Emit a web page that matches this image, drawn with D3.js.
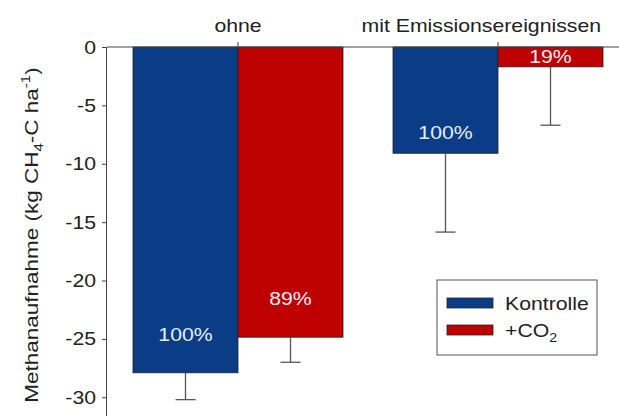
<!DOCTYPE html>
<html>
<head>
<meta charset="UTF-8">
<title>Methanaufnahme</title>
<script src="https://cdn.jsdelivr.net/npm/d3@7"></script>
<style>
    body { margin: 0; background: #fff; }
    svg { display: block; font-family: Arial, "Liberation Sans", sans-serif; }
</style>
</head>
<body>
<svg id="chart" width="619" height="416"></svg>
<script>
    // data
    const groups = ["ohne", "mit Emissionsereignissen"];
    const series = ["Kontrolle", "+CO2"];
    const kontrolle = [-27.9, -9.1];
    const co2 = [-24.85, -1.7];
    const kontrolleErr = [2.3, 6.75];
    const co2Err = [2.15, 5.0];
    const pctKontrolle = ["100%", "100%"];
    const pctCo2 = ["89%", "19%"];
    const yTicks = [0, -5, -10, -15, -20, -25, -30];

    const colors = ["#0b3d86", "#bf0000"];
    const FS = 18, SX = 1.18;   // the original type is wide, stretch it a bit

    const svg = d3.select("#chart");
    const plotLeft = 107, plotRight = 619, plotTop = 47, plotBottom = 416;

    const y = d3.scaleLinear().domain([0, -31.6]).range([plotTop, plotBottom]);
    const x0 = d3.scaleBand().domain(groups).range([plotLeft, 629])
        .paddingInner(0.1923).paddingOuter(0.1);
    const x1 = d3.scaleBand().domain(series).range([0, x0.bandwidth()]);
    const barW = x1.bandwidth();

    const rows = groups.map((g, i) => ([
        {g, s: series[0], i: 0, v: kontrolle[i], e: kontrolleErr[i], p: pctKontrolle[i]},
        {g, s: series[1], i: 1, v: co2[i], e: co2Err[i], p: pctCo2[i]}
    ])).flat();

    const bx = d => x0(d.g) + x1(d.s);

    function wideText(parent, x, y, rot, sx) {
        return parent.append("text")
            .attr("transform", `translate(${x},${y})` + (rot ? ` rotate(${rot})` : "") + ` scale(${sx || SX},1)`)
            .attr("font-size", FS).attr("fill", "#222");
    }

    // error bars (drawn first so bar covers the part inside)
    const eb = svg.append("g").attr("stroke", "#555").attr("stroke-width", 1.3);
    rows.forEach(d => {
        const cx = bx(d) + barW / 2;
        eb.append("line").attr("x1", cx).attr("x2", cx).attr("y1", y(d.v)).attr("y2", y(d.v - d.e));
        eb.append("line").attr("x1", cx - 10).attr("x2", cx + 10).attr("y1", y(d.v - d.e)).attr("y2", y(d.v - d.e));
    });

    svg.append("g").selectAll("rect").data(rows).join("rect")
        .attr("x", d => bx(d))
        .attr("y", y(0))
        .attr("width", barW)
        .attr("height", d => y(d.v) - y(0))
        .attr("fill", d => colors[d.i])
        .attr("stroke", "#222")
        .attr("stroke-width", 0.8);

    // percentage labels inside the bars
    const labelY = d => {
        if (d.v > -3) return y(0) + 16;          // short bar: just under the zero line
        if (d.v > -15) return y(d.v) - 14;       // medium bar
        return y(d.v) - 32;                      // long bars
    };
    rows.forEach(d => {
        wideText(svg, bx(d) + barW / 2, labelY(d))
            .attr("text-anchor", "middle").attr("fill", "#e6eef8").text(d.p);
    });

    // y axis
    const yAxis = d3.axisLeft(y).tickValues(yTicks).tickSize(5).tickPadding(6).tickFormat(d => String(d));
    const ya = svg.append("g").attr("transform", `translate(${plotLeft},0)`).call(yAxis);
    ya.select(".domain").attr("stroke", "#444").attr("d", `M-0.5,${plotTop}V${plotBottom}`);
    ya.selectAll(".tick line").attr("stroke", "#444");
    ya.selectAll(".tick text").remove();
    ya.selectAll(".tick").each(function (d) {
        wideText(d3.select(this), -11, 6).attr("text-anchor", "end").text(String(d));
    });

    // top zero axis with category ticks
    svg.append("line").attr("x1", plotLeft).attr("x2", plotRight).attr("y1", plotTop).attr("y2", plotTop)
        .attr("stroke", "#444").attr("stroke-width", 1);
    groups.forEach(g => {
        const cx = x0(g) + x0.bandwidth() / 2;
        svg.append("line").attr("x1", cx).attr("x2", cx)
            .attr("y1", plotTop).attr("y2", plotTop - 5).attr("stroke", "#444");
        const t = wideText(svg, cx, 32).attr("text-anchor", "middle").text(g);
        // keep the long label inside the frame, as in the original
        const w = t.node().getComputedTextLength() * SX;
        if (cx + w / 2 > 601) {
            t.attr("transform", `translate(${601 - w / 2},32) scale(${SX},1)`);
        }
    });

    // y axis title
    const yt = wideText(svg, 38, 235, -90, 1.25).attr("text-anchor", "middle");
    yt.append("tspan").text("Methanaufnahme (kg CH");
    yt.append("tspan").attr("font-size", 12).attr("dy", 5).text("4");
    yt.append("tspan").attr("dy", -5).text("-C ha");
    yt.append("tspan").attr("font-size", 12).attr("dy", -8).text("-1");
    yt.append("tspan").attr("dy", 8).text(")");

    // legend
    const lg = svg.append("g");
    lg.append("rect").attr("x", 437).attr("y", 280).attr("width", 160).attr("height", 75)
        .attr("fill", "#fff").attr("stroke", "#555").attr("stroke-width", 1);
    series.forEach((s, i) => {
        const ly = 298 + i * 27;
        lg.append("rect").attr("x", 447).attr("y", ly).attr("width", 46).attr("height", 10)
            .attr("fill", colors[i]).attr("stroke", "#222").attr("stroke-width", 0.8);
        const t = wideText(lg, 505, ly + 12);
        if (s === "+CO2") {
            t.append("tspan").text("+CO");
            t.append("tspan").attr("font-size", 12).attr("dy", 5).text("2");
        } else {
            t.text(s);
        }
    });
</script>
</body>
</html>
